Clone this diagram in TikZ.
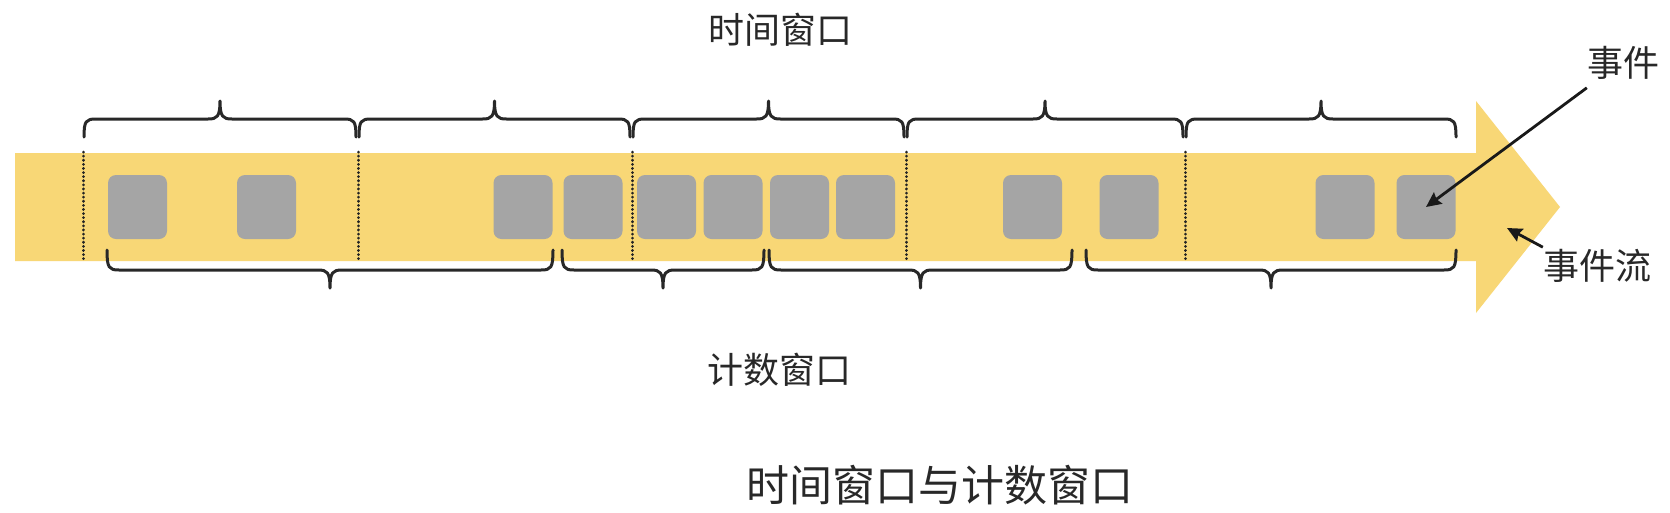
\documentclass[tikz,border=0pt]{standalone}
\usepackage{fontspec}
\newfontfamily\cjk{Noto Sans CJK SC}
\usetikzlibrary{arrows.meta}
\definecolor{bandyellow}{RGB}{248,215,118}
\definecolor{evgray}{RGB}{165,165,165}
\definecolor{ink}{RGB}{40,40,40}
\tikzset{
  evbox/.style={fill=evgray, rounded corners=8pt, minimum width=59pt, minimum height=64pt, inner sep=0pt},
  brc/.style={draw=ink, line width=3pt, line cap=round, line join=round},
  sepline/.style={draw=ink!90!black, line width=3pt, line cap=round, dash pattern=on 0.1pt off 4pt},
  lbl/.style={font=\cjk\fontsize{36}{40}\selectfont, text=ink, inner sep=0pt},
  ttl/.style={font=\cjk\fontsize{43}{48}\selectfont, text=ink, inner sep=0pt},
  ptr/.style={draw=black!90, line width=2.8pt, -{Stealth[length=15pt,width=14pt,inset=2pt]}},
}
\begin{document}
\begin{tikzpicture}[x=1pt,y=-1pt]
\useasboundingbox (0,0) rectangle (1670,512);
\fill[white] (0,0) rectangle (1670,512);
% event stream band with arrow head
\fill[bandyellow] (15,153) -- (1476,153) -- (1476,101) -- (1560,207) -- (1476,313) -- (1476,261) -- (15,261) -- cycle;
% time window separators
\foreach \x in {83,358,632,906,1185} \draw[sepline] (\x,152) -- (\x,260);
% events
\foreach \n/\x in {1/137.5,2/266.5,3/523,4/593,5/666.5,6/733,7/799.5,8/865.5,9/1032.5,10/1129,11/1345,12/1426}
  \node[evbox] (b\n) at (\x,207) {};
% time window braces (top)
\foreach \a/\b in {84/356, 359/630, 633/904, 907/1183, 1186/1456} {
  \pgfmathsetmacro\m{(\a+\b)/2}
  \draw[brc] (\a,137) .. controls (\a,121) and (\a+2,119) .. (\a+12,119) -- (\m-12,119)
    .. controls (\m-3,119) and (\m,117) .. (\m,101)
    .. controls (\m,117) and (\m+3,119) .. (\m+12,119) -- (\b-12,119)
    .. controls (\b-2,119) and (\b,121) .. (\b,137);
}
% count window braces (bottom)
\foreach \a/\b in {107/553, 562/764, 769/1072, 1086/1456} {
  \pgfmathsetmacro\m{(\a+\b)/2}
  \draw[brc] (\a,250) .. controls (\a,268) and (\a+2,270) .. (\a+12,270) -- (\m-12,270)
    .. controls (\m-3,270) and (\m,272) .. (\m,288)
    .. controls (\m,272) and (\m+3,270) .. (\m+12,270) -- (\b-12,270)
    .. controls (\b-2,270) and (\b,268) .. (\b,250);
}
% labels
\node[lbl] (twin) at (780,30) {时间窗口};
\node[lbl] (cwin) at (779,370) {计数窗口};
\node[lbl] (evt) at (1623,63) {事件};
\node[lbl] (flow) at (1597,266) {事件流};
\node[ttl] (title) at (940,485) {时间窗口与计数窗口};
% pointers
\coordinate (flowpt) at (1507,228);
\draw[ptr] ([yshift=-8pt]evt.south west) -- (b12.center);
\draw[ptr] ([yshift=2pt]flow.north west) -- (flowpt);
\end{tikzpicture}
\end{document}
